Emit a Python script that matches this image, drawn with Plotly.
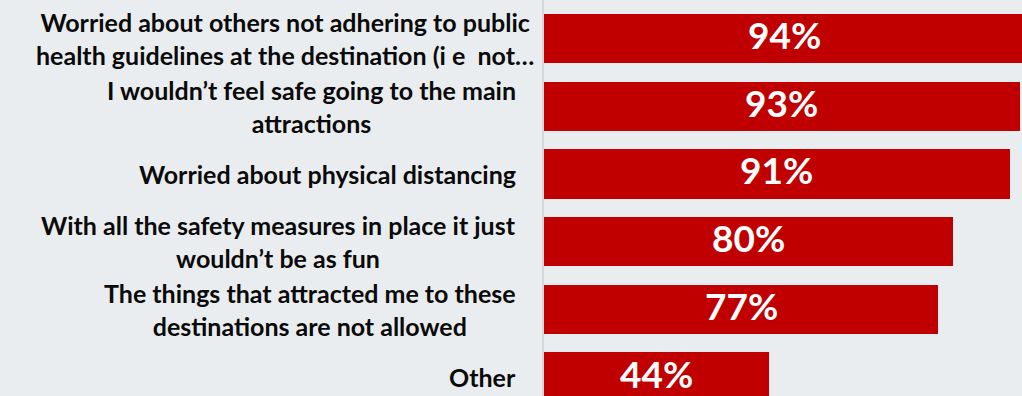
import plotly.graph_objects as go

categories = [
    "Worried about others not adhering to public<br>health guidelines at the destination (i e\u00a0 not…",
    "I wouldn’t feel safe going to the main<br>attractions",
    "Worried about physical distancing",
    "With all the safety measures in place it just<br>wouldn’t be as fun",
    "The things that attracted me to these<br>destinations are not allowed",
    "Other",
]
values = [94, 93, 91, 80, 77, 44]

BG = "#eaedef"
RED = "#c00000"
ids = [f"c{i}" for i in range(len(categories))]

# label block right edges (px offset from plot left edge); first label overflows its box
label_shift = [-8, -26, -26, -26, -26, -26]

fig = go.Figure()
fig.add_trace(go.Bar(
    x=values,
    y=ids,
    orientation="h",
    marker=dict(color=RED, line=dict(width=0)),
    width=0.73,
    hoverinfo="skip",
))

# value labels centred in each bar
for cid, v in zip(ids, values):
    fig.add_annotation(
        x=v / 2, xref="x", xanchor="center",
        y=cid, yref="y", yanchor="middle", yshift=4,
        text=f"{v}%", showarrow=False,
        font=dict(family="Lato", size=37, color="white", weight="bold"),
    )

for cid, label, sh in zip(ids, categories, label_shift):
    fig.add_annotation(
        x=0, xref="paper", xanchor="right", xshift=sh,
        y=cid, yref="y", yanchor="middle",
        text=label, align="center", showarrow=False,
        font=dict(family="Lato", size=25, color="#0a0a0a", weight="bold"),
    )

fig.update_layout(
    width=1022, height=396, autosize=False,
    margin=dict(l=544, r=0, t=0, b=0, pad=0),
    paper_bgcolor=BG, plot_bgcolor=BG,
    showlegend=False,
    bargap=0,
)
fig.update_xaxes(range=[0, 93.4], showgrid=False, zeroline=False,
                 showticklabels=False, ticks="")
fig.update_yaxes(type="category", categoryorder="array", categoryarray=ids,
                 range=[5.28, -0.569], showgrid=False, zeroline=False,
                 showticklabels=False, ticks="",
                 showline=True, linecolor="#d4d6d8", linewidth=2)

fig.write_html(
    "out.html",
    config={"displayModeBar": False, "staticPlot": True},
    post_script="document.body.style.margin='0';document.body.style.background='" + BG + "';",
)
